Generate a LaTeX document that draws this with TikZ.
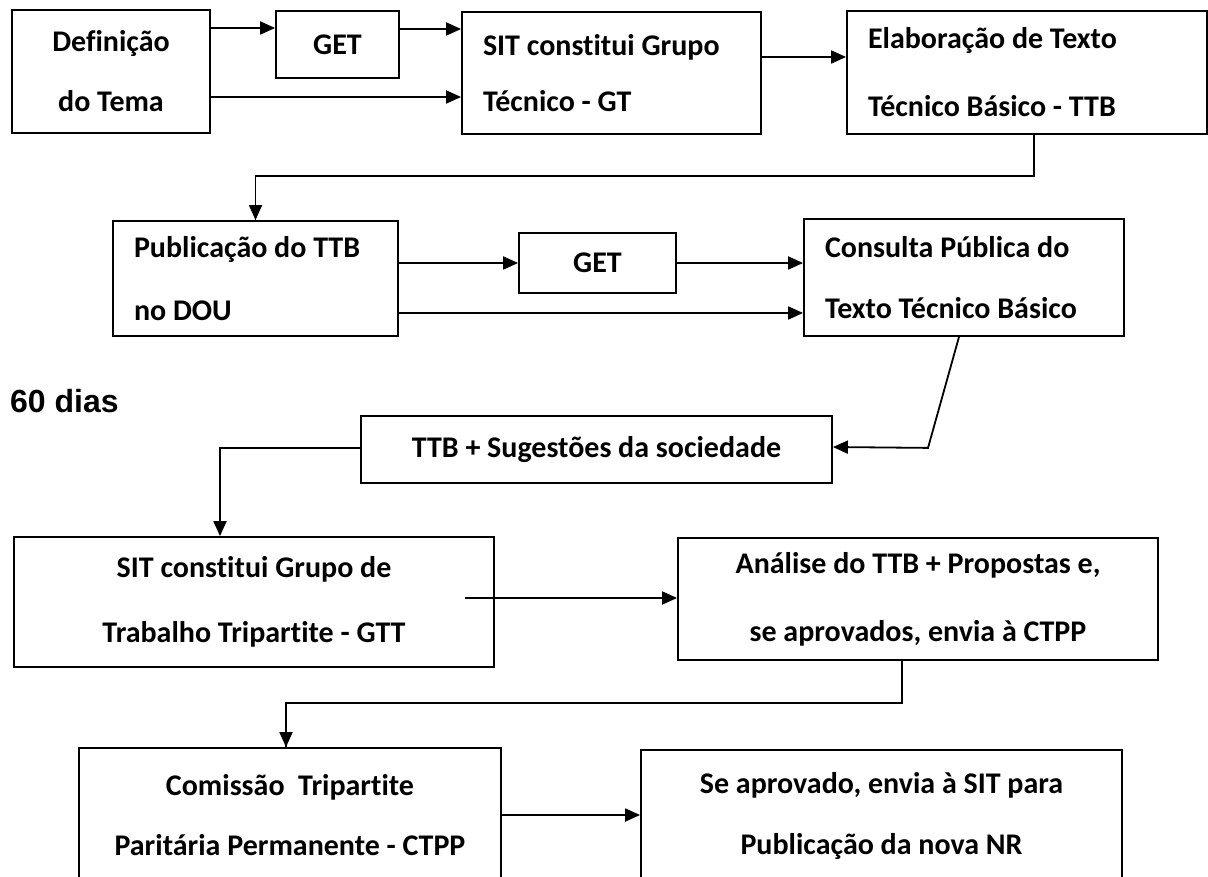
\documentclass[tikz,border=0pt]{standalone}
\usepackage{fontspec}
\setmainfont{Carlito}[Ligatures=NoCommon]
\newfontfamily\arialfont{Liberation Sans}
\usetikzlibrary{arrows.meta,positioning}

\tikzset{
  stage/.style={draw, line width=1.8pt, align=center, inner sep=0pt,
    font=\bfseries\fontsize{30}{34}\selectfont},
  stageleft/.style={stage, align=flush left, inner xsep=21pt},
  flow/.style={line width=1.8pt, -{Triangle[length=15pt,width=13pt]}},
  elbow/.style={line width=1.3pt}
}

\begin{document}
\begin{tikzpicture}[x=1pt,y=-1pt]
\useasboundingbox (0,0) rectangle (1208,877);
\clip (0,0) rectangle (1208,877);

% first row
\node[stage, minimum width=198pt, minimum height=123pt] (tema) at (111,71.5) {Definição\\[26pt]do Tema};
\node[stage, minimum width=123pt, minimum height=67pt] (get1) at (337.5,44.5) {GET};
\node[stageleft, text width=257pt, minimum height=122pt] (sitgt) at (611.5,73) {SIT constitui Grupo\\[22pt]Técnico - GT};
\node[stageleft, text width=318pt, minimum height=123pt] (texto) at (1027,72.5) {Elaboração de Texto\\[34pt]Técnico Básico - TTB};

% second row
\node[stageleft, text width=243pt, minimum height=115pt] (publica) at (255.5,278.5) {Publicação do TTB\\[29pt]no DOU};
\node[stage, minimum width=157pt, minimum height=60pt] (get2) at (597.5,263) {GET};
\node[stageleft, text width=278pt, minimum height=117pt] (consulta) at (964,277.5) {Consulta Pública do\\[27pt]Texto Técnico Básico};

\node[anchor=base west, inner sep=0pt, font=\arialfont\bfseries\fontsize{32}{38}\selectfont] (prazo) at (10,412) {60 dias};
\node[stage, minimum width=471pt, minimum height=67pt] (sugest) at (596.5,449.5) {TTB + Sugestões da sociedade};

% third row
\node[stage, minimum width=480pt, minimum height=130pt] (gtt) at (254,602) {SIT constitui Grupo de\\[31pt]Trabalho Tripartite - GTT};
\node[stage, minimum width=480pt, minimum height=122pt] (analise) at (918,599) {Análise do TTB + Propostas e,\\[34pt]se aprovados, envia à CTPP};

% last row, cut at the bottom
\node[stage, minimum width=422pt, minimum height=134pt] (ctpp) at (290,815) {Comissão\ \ Tripartite\\[26pt]Paritária Permanente - CTPP};
\node[stage, minimum width=481pt, minimum height=132pt] (novanr) at (881.5,816) {Se aprovado, envia à SIT para\\[27pt]Publicação da nova NR};

% connectors
\draw[flow] ([yshift=43.5pt]tema.east) -- ([yshift=16.5pt]get1.west);
\draw[flow] ([yshift=15.5pt]get1.east) -- ([yshift=44pt]sitgt.west);
\draw[flow] ([yshift=-25.5pt]tema.east) -- ([yshift=-24pt]sitgt.west);
\draw[flow] ([yshift=16pt]sitgt.east) -- ([yshift=15.5pt]texto.west);
\draw[elbow] ([xshift=7pt]texto.south) -- ++(0,41) -| (publica.north);
\draw[flow] (publica.north) ++(0,-1) -- (publica.north);

\draw[flow] (publica.east |- get2.west) -- (get2.west);
\draw[flow] (get2.east) -- (get2.east -| consulta.west);
\draw[flow] ([yshift=-34.5pt]publica.east) -- ([yshift=-35.5pt]consulta.west);
\draw[flow] ([xshift=-5pt]consulta.south) -- ++(-31,111) -- ([yshift=2.5pt]sugest.east);
\draw[flow] ([yshift=1.5pt]sugest.west) -| ([xshift=-34pt]gtt.north);

\draw[flow] ([xshift=-30pt,yshift=4pt]gtt.east) -- ([yshift=1pt]analise.west);
\draw[elbow] ([xshift=-16pt]analise.south) -- ++(0,42) -| ([xshift=-4pt]ctpp.north);
\draw[flow] ([xshift=-4pt]ctpp.north) ++(0,-1) -- ([xshift=-4pt]ctpp.north);
\draw[flow] (ctpp.east) -- (ctpp.east -| novanr.west);
\end{tikzpicture}
\end{document}
